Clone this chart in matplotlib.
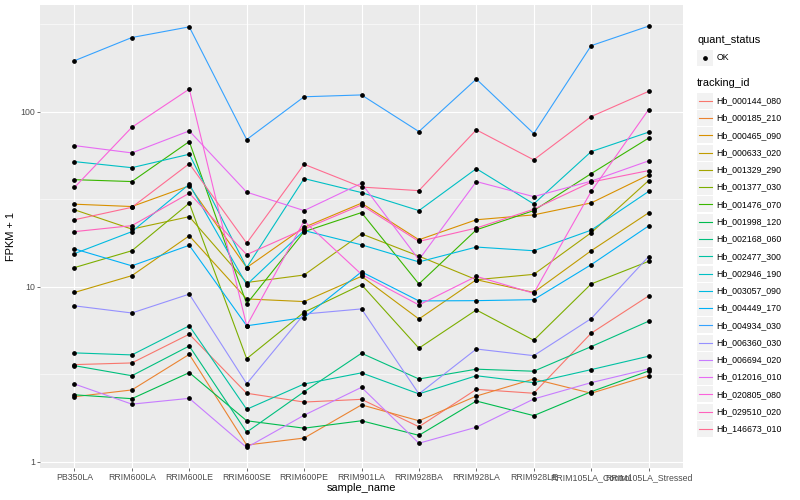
import matplotlib
matplotlib.use("Agg")
import matplotlib.pyplot as plt
from matplotlib.patches import Rectangle
from matplotlib.lines import Line2D
from matplotlib.ticker import FixedLocator, NullFormatter

plt.rcParams["font.family"] = ["Liberation Sans", "DejaVu Sans"]

samples = ["PB350LA", "RRIM600LA", "RRIM600LE", "RRIM600SE", "RRIM600PE",
           "RRIM901LA", "RRIM928BA", "RRIM928LA", "RRIM928LE",
           "RRIM105LA_Control", "RRIM105LA_Stressed"]

tracking_ids = ["Hb_000144_080", "Hb_000185_210", "Hb_000465_090", "Hb_000633_020",
                "Hb_001329_290", "Hb_001377_030", "Hb_001476_070", "Hb_001998_120",
                "Hb_002168_060", "Hb_002477_300", "Hb_002946_190", "Hb_003057_090",
                "Hb_004449_170", "Hb_004934_030", "Hb_006360_030", "Hb_006694_020",
                "Hb_012016_010", "Hb_020805_080", "Hb_029510_020", "Hb_146673_010"]

# ggplot default hue palette for 20 groups
colors = ["#F8766D", "#EA8331", "#D89000", "#C09B00", "#A3A500", "#7CAE00",
          "#39B600", "#00BB4E", "#00BF7D", "#00C1A3", "#00BFC4", "#00BAE0",
          "#00B0F6", "#35A2FF", "#9590FF", "#C77CFF", "#E76BF3", "#FA62DB",
          "#FF62BC", "#FF6C91"]

# FPKM + 1, one list per gene (same order as tracking_ids)
hb_000144_080 = [3.6, 3.68, 5.37, 2.47, 2.20, 2.28, 1.59, 2.60, 2.47, 5.44, 8.88]
hb_000185_210 = [2.36, 2.58, 4.12, 1.25, 1.37, 2.12, 1.72, 2.38, 2.98, 2.47, 3.11]
hb_000465_090 = [29.7, 28.8, 37.8, 12.9, 21.9, 30.1, 18.6, 24.2, 25.8, 30.2, 43.6]
hb_000633_020 = [9.3, 11.6, 19.6, 8.54, 8.25, 11.5, 6.56, 11.0, 9.3, 16.1, 26.5]
hb_001329_290 = [27.6, 21.4, 25.2, 10.6, 11.7, 20.1, 15.0, 11.0, 11.8, 20.4, 40.5]
hb_001377_030 = [12.9, 16.1, 30.1, 3.89, 7.17, 10.3, 4.47, 7.39, 4.96, 10.4, 14.0]
hb_001476_070 = [41, 40, 67.7, 8.0, 20.7, 26.6, 10.4, 21.2, 27.3, 44.4, 70.8]
hb_001998_120 = [2.42, 2.30, 3.24, 1.72, 1.56, 1.72, 1.42, 2.23, 1.84, 2.52, 3.31]
hb_002168_060 = [3.55, 3.11, 4.6, 1.48, 2.52, 4.18, 2.98, 3.39, 3.30, 4.56, 6.37]
hb_002477_300 = [4.2, 4.09, 6.0, 2.0, 2.79, 3.23, 2.45, 3.11, 2.84, 3.37, 4.02]
hb_002946_190 = [52, 48, 57.3, 12.9, 41.6, 34.6, 27.3, 47.4, 29.8, 59.3, 76.6]
hb_003057_090 = [15.5, 20.7, 38.6, 10.3, 21.0, 17.4, 13.9, 16.9, 16.1, 21.1, 35.1]
hb_004449_170 = [16.5, 13.2, 17.3, 6.0, 6.68, 12.2, 8.32, 8.35, 8.46, 13.4, 22.3]
hb_004934_030 = [196, 266, 306, 69.5, 122, 125, 77.2, 154, 75.2, 239, 309]
hb_006360_030 = [7.8, 7.1, 9.1, 2.80, 7.0, 7.49, 2.45, 4.42, 4.05, 6.59, 14.9]
hb_006694_020 = [2.79, 2.14, 2.31, 1.21, 1.85, 2.67, 1.28, 1.58, 2.29, 2.84, 3.40]
hb_012016_010 = [64.2, 58.3, 77.9, 34.8, 27.3, 39.1, 14.3, 40.0, 32.8, 40.2, 52.5]
hb_020805_080 = [37, 81.7, 135, 6.0, 23.8, 11.8, 7.89, 11.5, 9.2, 35.1, 103]
hb_029510_020 = [20.7, 22.4, 34.3, 15.3, 21.4, 29.4, 18.2, 21.7, 27.8, 39.7, 46.2]
hb_146673_010 = [24.2, 28.5, 50.6, 17.8, 50.2, 37.2, 35.5, 79, 53.2, 94, 131]

series = [hb_000144_080, hb_000185_210, hb_000465_090, hb_000633_020, hb_001329_290,
          hb_001377_030, hb_001476_070, hb_001998_120, hb_002168_060, hb_002477_300,
          hb_002946_190, hb_003057_090, hb_004449_170, hb_004934_030, hb_006360_030,
          hb_006694_020, hb_012016_010, hb_020805_080, hb_029510_020, hb_146673_010]

W, H = 800, 500


def fx(px):
    return px / W


def fy(py):
    return 1 - py / H


def main():
    fig = plt.figure(figsize=(8, 5), dpi=100)
    ax = fig.add_axes([fx(40), fy(468), (683 - 40) / W, (468 - 5) / H])
    ax.set_facecolor("#EBEBEB")

    x = list(range(len(samples)))
    for vals, col in zip(series, colors):
        ax.plot(x, vals, color=col, lw=0.8, zorder=3)
    for vals in series:
        ax.plot(x, vals, "o", color="black", ms=2.4, zorder=4)

    ax.set_yscale("log")
    ax.set_ylim(0.924, 408)
    ax.set_xlim(-0.6, len(samples) - 0.4)
    ax.yaxis.set_major_locator(FixedLocator([1, 10, 100]))
    ax.yaxis.set_minor_locator(FixedLocator([3.1623, 31.623, 316.23]))
    ax.yaxis.set_minor_formatter(NullFormatter())
    ax.set_yticklabels(["1", "10", "100"])
    ax.set_xticks(x)
    ax.set_xticklabels(samples)

    ax.grid(which="major", color="white", lw=0.8)
    ax.grid(which="minor", axis="y", color="white", lw=0.4)
    ax.set_axisbelow(True)
    for s in ax.spines.values():
        s.set_visible(False)
    ax.tick_params(which="major", length=2, width=0.5, color="#333333",
                   labelsize=6.3, labelcolor="#4D4D4D", pad=1.5)
    ax.tick_params(which="minor", length=0)

    ax.set_xlabel("sample_name", fontsize=7.9, labelpad=1)
    ax.set_ylabel("FPKM + 1", fontsize=7.9, labelpad=3)

    # legend: quant_status
    fig.text(fx(697), fy(40), "quant_status", fontsize=7.9, va="center", ha="left")
    fig.patches.append(Rectangle((fx(697), fy(66)), 16 / W, 16 / H,
                                 transform=fig.transFigure, facecolor="#F2F2F2",
                                 edgecolor="none"))
    fig.lines.append(Line2D([fx(705)], [fy(57.5)], marker="o", color="black", ms=2.4,
                            transform=fig.transFigure))
    fig.text(fx(716.5), fy(57.5), "OK", fontsize=6.3, va="center", ha="left")

    # legend: tracking_id
    fig.text(fx(697), fy(83), "tracking_id", fontsize=7.9, va="center", ha="left")
    for i, (name, col) in enumerate(zip(tracking_ids, colors)):
        yc = 100.7 + i * 17.28
        fig.patches.append(Rectangle((fx(697), fy(yc + 8)), 16 / W, 16 / H,
                                     transform=fig.transFigure, facecolor="#F2F2F2",
                                     edgecolor="none"))
        fig.lines.append(Line2D([fx(698.5), fx(711.5)], [fy(yc), fy(yc)], color=col,
                                lw=0.8, transform=fig.transFigure))
        fig.text(fx(716.5), fy(yc), name, fontsize=6.3, va="center", ha="left")

    fig.savefig("out.png", dpi=100)


if __name__ == "__main__":
    main()
